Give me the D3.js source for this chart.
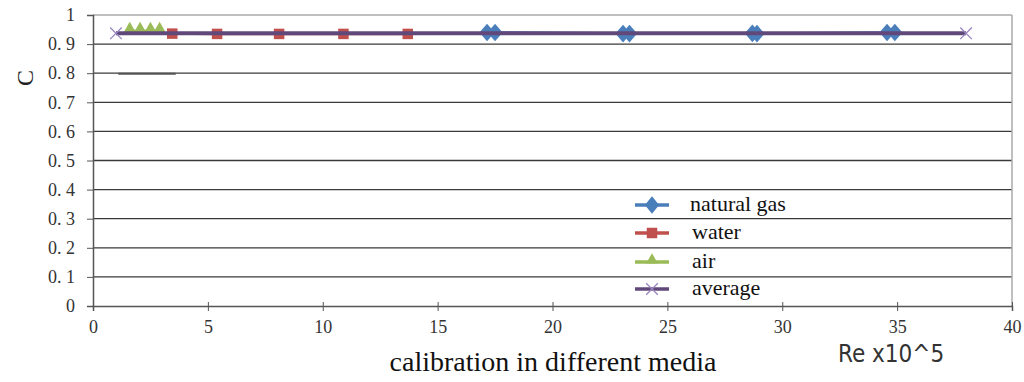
<!DOCTYPE html>
<html>
<head>
<meta charset="utf-8">
<script src="https://cdn.jsdelivr.net/npm/d3@7"></script>
<style>
  body { margin: 0; background: #fff; }
  svg { display: block; }
</style>
</head>
<body>
<div id="chart"></div>
<script>
// data
var gasX = [17.15, 17.5, 23.07, 23.35, 28.7, 28.9, 34.56, 34.9];
var gasY = [0.94, 0.94, 0.936, 0.936, 0.937, 0.936, 0.94, 0.94];
var waterX = [3.45, 5.4, 8.1, 10.9, 13.7];
var waterY = [0.936, 0.935, 0.935, 0.935, 0.935];
var airX = [1.6, 2.05, 2.5, 2.9];
var airY = [0.943, 0.943, 0.943, 0.943];
var avgX = [1, 38];
var avgY = [0.937, 0.937];
var yTicks = [0, 0.1, 0.2, 0.3, 0.4, 0.5, 0.6, 0.7, 0.8, 0.9, 1];
var xTicks = [0, 5, 10, 15, 20, 25, 30, 35, 40];
var legendNames = ["natural gas", "water", "air", "average"];

var width = 1024, height = 382;
var margin = {top: 15, right: 12, bottom: 76, left: 93};
var serif = "'Times New Roman', 'Liberation Serif', serif";

var svg = d3.select("#chart").append("svg")
    .attr("width", width)
    .attr("height", height);

var x = d3.scaleLinear().domain([0, 40]).range([margin.left, width - margin.right]);
var y = d3.scaleLinear().domain([0, 1]).range([height - margin.bottom, margin.top]);

// gridlines
svg.append("g").selectAll("line")
    .data(yTicks.slice(1, -1))
    .enter().append("line")
    .attr("x1", x(0)).attr("x2", x(40))
    .attr("y1", d => y(d)).attr("y2", d => y(d))
    .style("stroke", "#3a3a3a")
    .style("stroke-width", 1.3);

// plot frame top/right
svg.append("line")
    .attr("x1", x(0)).attr("x2", x(40))
    .attr("y1", y(1)).attr("y2", y(1))
    .style("stroke", "#aaa").style("stroke-width", 1.5);
svg.append("line")
    .attr("x1", x(40)).attr("x2", x(40))
    .attr("y1", y(1)).attr("y2", y(0))
    .style("stroke", "#aaa").style("stroke-width", 1.5);

// stray dark dash near 0.8
svg.append("line")
    .attr("x1", x(1.1)).attr("x2", x(3.6))
    .attr("y1", y(0.798)).attr("y2", y(0.798))
    .style("stroke", "#555").style("stroke-width", 2);

// axes
var yAxis = svg.append("g")
    .attr("transform", "translate(" + x(0) + ",0)")
    .call(d3.axisLeft(y).tickValues(yTicks).tickSize(6).tickPadding(12)
        .tickFormat(d => d === 0 || d === 1 ? d : d3.format(".1f")(d).replace(".", ". ")));
yAxis.select(".domain").style("stroke", "#555").style("stroke-width", 1.5);
yAxis.selectAll(".tick line").style("stroke", "#555");
yAxis.selectAll(".tick text")
    .attr("font-family", serif).attr("font-size", 18).attr("fill", "#333")
    .style("white-space", "pre");

var xAxis = svg.append("g")
    .attr("transform", "translate(0," + y(0) + ")")
    .call(d3.axisBottom(x).tickValues(xTicks).tickSize(5).tickPadding(9));
xAxis.select(".domain").style("stroke", "#555").style("stroke-width", 1.5);
xAxis.selectAll(".tick line").attr("y1", -4).style("stroke", "#555");
xAxis.selectAll(".tick text")
    .attr("font-family", serif).attr("font-size", 18).attr("fill", "#333");

// series
function pts(xs, ys) { return xs.map((v, i) => [x(v), y(ys[i])]); }
var line = d3.line();

var series = [
  {name: "natural gas", xs: gasX, ys: gasY, color: "#4a7ebb", mark: d3.symbolDiamond, size: 90, w: 2.5},
  {name: "water", xs: waterX, ys: waterY, color: "#c0504d", mark: d3.symbolSquare, size: 110, w: 2.5},
  {name: "air", xs: airX, ys: airY, color: "#9bbb59", mark: d3.symbolTriangle, size: 60, w: 4},
  {name: "average", xs: avgX, ys: avgY, color: "#60497a", mark: null, size: 0, w: 4}
];

series.forEach(function(s) {
  svg.append("path")
      .attr("d", line(pts(s.xs, s.ys)))
      .style("fill", "none")
      .style("stroke", s.color)
      .style("stroke-width", s.w);
  if (s.mark) {
    var sx = s.mark === d3.symbolDiamond ? 1.5 : 1;
    svg.append("g").selectAll("path")
        .data(pts(s.xs, s.ys))
        .enter().append("path")
        .attr("transform", d => "translate(" + d[0] + "," + (s.mark === d3.symbolTriangle ? d[1] - 3 : d[1]) + ") scale(" + sx + ",1)")
        .attr("d", d3.symbol().type(s.mark).size(s.size))
        .style("fill", s.color);
  }
});

// average X markers
svg.append("g").selectAll("path")
    .data(pts(avgX, avgY))
    .enter().append("path")
    .attr("transform", d => "translate(" + d[0] + "," + d[1] + ")")
    .attr("d", d3.symbol().type(d3.symbolX).size(90))
    .style("fill", "none")
    .style("stroke", "#9a85c0")
    .style("stroke-width", 1.3);

// legend
var legend = svg.append("g");
var rowsY = [205, 233, 262, 289];
series.forEach(function(s, i) {
  var g = legend.append("g").attr("transform", "translate(0," + rowsY[i] + ")");
  g.append("rect").attr("x", 632).attr("y", -9).attr("width", 42).attr("height", 18).style("fill", "#fff");
  g.append("line").attr("x1", 635).attr("x2", 669).attr("y1", 0).attr("y2", 0)
      .style("stroke", s.color).style("stroke-width", 3.5);
  if (s.mark) {
    var sx = s.mark === d3.symbolDiamond ? 1.4 : 1;
    g.append("path").attr("transform", "translate(652," + (s.mark === d3.symbolTriangle ? -2 : 0) + ") scale(" + sx + ",1)")
        .attr("d", d3.symbol().type(s.mark).size(s.size))
        .style("fill", s.color);
  } else {
    g.append("path").attr("transform", "translate(652,0)")
        .attr("d", d3.symbol().type(d3.symbolX).size(90))
        .style("fill", "none").style("stroke", "#9a85c0").style("stroke-width", 1.3);
  }
  g.append("text")
      .attr("x", i === 0 ? 690 : 692).attr("y", 6)
      .attr("font-family", serif)
      .attr("font-size", 22)
      .attr("fill", "#111")
      .text(legendNames[i]);
});

// axis titles
svg.append("text")
    .attr("transform", "translate(33,78) rotate(-90)")
    .attr("text-anchor", "middle")
    .attr("font-family", serif)
    .attr("font-size", 24)
    .attr("fill", "#222")
    .text("C");

svg.append("text")
    .attr("x", 553).attr("y", 371)
    .attr("text-anchor", "middle")
    .attr("font-family", serif)
    .attr("font-size", 28)
    .attr("fill", "#111")
    .text("calibration in different media");

svg.append("text")
    .attr("x", 838).attr("y", 362)
    .attr("font-family", "'DejaVu Sans Condensed', 'Liberation Sans Narrow', sans-serif")
    .attr("font-size", 24)
    .attr("fill", "#333")
    .text("Re x10^5");
</script>
</body>
</html>
